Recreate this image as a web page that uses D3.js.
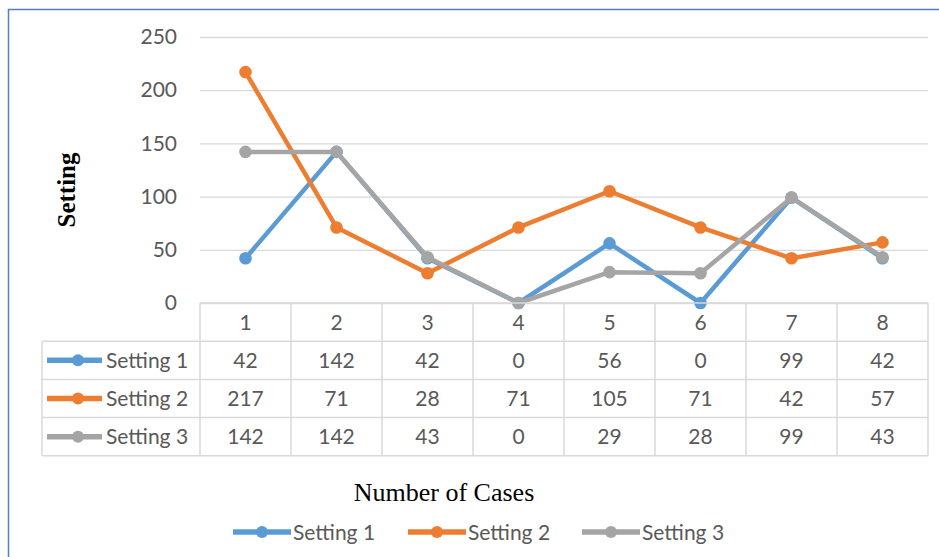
<!DOCTYPE html>
<html>
<head>
<meta charset="utf-8">
<script src="https://cdn.jsdelivr.net/npm/d3@7/dist/d3.min.js"></script>
<style>
  html, body { margin: 0; padding: 0; background: #fff; }
  svg { display: block; }
</style>
</head>
<body>
<svg id="chart" width="939" height="557"></svg>
<script>
// ---- data ----
const categories = ["1", "2", "3", "4", "5", "6", "7", "8"];
const seriesNames = ["Setting 1", "Setting 2", "Setting 3"];
const setting1 = [42, 142, 42, 0, 56, 0, 99, 42];
const setting2 = [217, 71, 28, 71, 105, 71, 42, 57];
const setting3 = [142, 142, 43, 0, 29, 28, 99, 43];
const yTicks = [0, 50, 100, 150, 200, 250];
const xTitle = "Number of Cases";
const yTitle = "Setting";

const series = [
  { name: seriesNames[0], values: setting1, color: "#5B9BD5" },
  { name: seriesNames[1], values: setting2, color: "#ED7D31" },
  { name: seriesNames[2], values: setting3, color: "#A5A5A5" }
];

const svg = d3.select("#chart");
const sans = "Lato, 'Open Sans', sans-serif";
const serif = "'Liberation Serif', 'DejaVu Serif', serif";
const textGray = "#595959";
const gridGray = "#D9D9D9";

// outer border (extends beyond the viewport on right / bottom)
svg.append("rect")
  .attr("x", 8.5).attr("y", 9.5)
  .attr("width", 960).attr("height", 580)
  .attr("fill", "none").attr("stroke", "#4F7FC6").attr("stroke-width", 1.5);

const plotLeft = 200, plotRight = 928, plotTop = 37, plotBottom = 303;
const x = d3.scaleBand().domain(categories).range([plotLeft, plotRight]);
const y = d3.scaleLinear().domain([0, 250]).range([plotBottom, plotTop]);

// gridlines
const yAxis = d3.axisLeft(y).tickValues(yTicks).tickSize(-(plotRight - plotLeft)).tickPadding(23);
const gy = svg.append("g").attr("transform", `translate(${plotLeft},0)`).call(yAxis);
gy.select(".domain").remove();
gy.selectAll(".tick line").attr("stroke", gridGray).attr("stroke-width", 1.3);
gy.selectAll(".tick text")
  .attr("fill", textGray).style("font-family", sans).style("font-size", "21px");

// lines
const line = d3.line()
  .x((d, i) => x(categories[i]) + x.bandwidth() / 2)
  .y(d => y(d));

series.forEach(s => {
  svg.append("path")
    .datum(s.values)
    .attr("d", line)
    .attr("fill", "none")
    .attr("stroke", s.color)
    .attr("stroke-width", 4.5)
    .attr("stroke-linejoin", "round");
  svg.selectAll(null)
    .data(s.values)
    .enter().append("circle")
    .attr("cx", (d, i) => x(categories[i]) + x.bandwidth() / 2)
    .attr("cy", d => y(d))
    .attr("r", 6.3)
    .attr("fill", s.color);
});

// ---- data table ----
const tableLeft = 42;
const rowH = 38.2;
const headerTop = plotBottom;
const tableBottom = headerTop + rowH * 4;
const tg = svg.append("g");

// horizontal lines
[0, 1, 2, 3, 4].forEach(r => {
  const yy = headerTop + r * rowH;
  tg.append("line")
    .attr("x1", r === 0 ? plotLeft : tableLeft).attr("x2", plotRight)
    .attr("y1", yy).attr("y2", yy)
    .attr("stroke", gridGray).attr("stroke-width", 1.5);
});
// vertical lines
tg.append("line").attr("x1", tableLeft).attr("x2", tableLeft)
  .attr("y1", headerTop + rowH).attr("y2", tableBottom)
  .attr("stroke", gridGray).attr("stroke-width", 1.5);
categories.concat(["end"]).forEach((c, i) => {
  const xx = plotLeft + i * x.bandwidth();
  tg.append("line").attr("x1", xx).attr("x2", xx)
    .attr("y1", headerTop).attr("y2", tableBottom)
    .attr("stroke", gridGray).attr("stroke-width", 1.5);
});

// header labels
tg.selectAll(".hdr").data(categories).enter().append("text")
  .attr("x", d => x(d) + x.bandwidth() / 2)
  .attr("y", headerTop + rowH / 2)
  .attr("dy", "0.36em")
  .attr("text-anchor", "middle")
  .attr("fill", textGray).style("font-family", sans).style("font-size", "21px")
  .text(d => d);

// rows
series.forEach((s, r) => {
  const cy = headerTop + rowH * (r + 1) + rowH / 2;
  tg.append("line").attr("x1", 47).attr("x2", 102).attr("y1", cy).attr("y2", cy)
    .attr("stroke", s.color).attr("stroke-width", 5.5);
  tg.append("circle").attr("cx", 78).attr("cy", cy).attr("r", 6).attr("fill", s.color);
  tg.append("text").attr("x", 106).attr("y", cy).attr("dy", "0.36em")
    .attr("fill", textGray).style("font-family", sans).style("font-size", "21px")
    .text(s.name);
  tg.selectAll(null).data(s.values).enter().append("text")
    .attr("x", (d, i) => x(categories[i]) + x.bandwidth() / 2)
    .attr("y", cy).attr("dy", "0.36em")
    .attr("text-anchor", "middle")
    .attr("fill", textGray).style("font-family", sans).style("font-size", "21px")
    .text(d => d);
});

// axis titles
svg.append("text")
  .attr("x", 444).attr("y", 492).attr("dy", "0.35em")
  .attr("text-anchor", "middle")
  .style("font-family", serif).style("font-size", "26px").attr("fill", "#000")
  .text(xTitle);
svg.append("text")
  .attr("transform", "translate(66,190) rotate(-90)")
  .attr("dy", "0.35em")
  .attr("text-anchor", "middle")
  .style("font-family", serif).style("font-size", "25px").style("font-weight", "bold").attr("fill", "#000")
  .text(yTitle);

// legend
const legendX = [233, 408, 582];
const legendY = 532;
series.forEach((s, i) => {
  const lg = svg.append("g").attr("transform", `translate(${legendX[i]},${legendY})`);
  lg.append("line").attr("x1", 0).attr("x2", 58).attr("y1", 0).attr("y2", 0)
    .attr("stroke", s.color).attr("stroke-width", 5.5);
  lg.append("circle").attr("cx", 29).attr("cy", 0).attr("r", 6).attr("fill", s.color);
  lg.append("text").attr("x", 60).attr("y", 0).attr("dy", "0.36em")
    .attr("fill", textGray).style("font-family", sans).style("font-size", "21px")
    .text(s.name);
});
</script>
</body>
</html>
